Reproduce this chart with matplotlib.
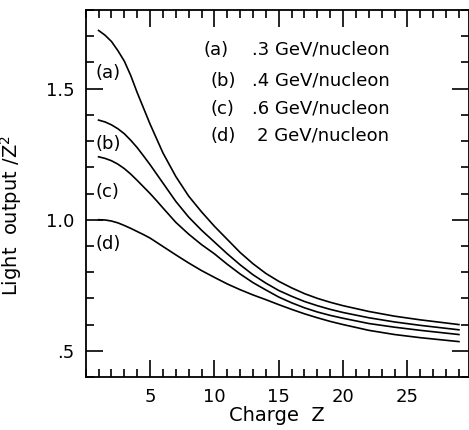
import matplotlib
matplotlib.use("Agg")
import matplotlib.pyplot as plt
from matplotlib.ticker import MultipleLocator, FixedLocator

# valores (Z, light output / Z^2)
charge_z = [1, 1.5, 2, 2.5, 3, 3.5, 4, 4.5, 5, 5.5, 6, 7, 8, 9, 10, 11, 12, 13,
            14, 15, 16, 17, 18, 19, 20, 22, 24, 26, 29]
curve_a = [1.722, 1.704, 1.68, 1.645, 1.605, 1.55, 1.485, 1.425, 1.365, 1.31,
           1.255, 1.165, 1.09, 1.03, 0.975, 0.925, 0.875, 0.832, 0.795, 0.765,
           0.74, 0.718, 0.70, 0.685, 0.672, 0.65, 0.632, 0.618, 0.60]
curve_b = [1.38, 1.373, 1.362, 1.347, 1.328, 1.303, 1.275, 1.243, 1.21, 1.175,
           1.14, 1.07, 1.01, 0.96, 0.915, 0.87, 0.828, 0.79, 0.758, 0.73,
           0.708, 0.688, 0.672, 0.658, 0.646, 0.626, 0.61, 0.597, 0.58]
curve_c = [1.24, 1.234, 1.225, 1.212, 1.195, 1.174, 1.15, 1.125, 1.10, 1.073,
           1.045, 0.99, 0.945, 0.905, 0.87, 0.83, 0.793, 0.76, 0.732, 0.705,
           0.683, 0.664, 0.648, 0.635, 0.624, 0.604, 0.59, 0.578, 0.562]
curve_d = [1.0, 0.999, 0.995, 0.988, 0.978, 0.967, 0.955, 0.943, 0.93, 0.914,
           0.898, 0.866, 0.835, 0.806, 0.78, 0.755, 0.733, 0.713, 0.695, 0.676,
           0.658, 0.641, 0.626, 0.612, 0.60, 0.578, 0.562, 0.55, 0.535]

curve_tags = ["(a)", "(b)", "(c)", "(d)"]
tag_y = [1.56, 1.29, 1.107, 0.908]
energy_labels = [".3 GeV/nucleon", ".4 GeV/nucleon", ".6 GeV/nucleon", "2 GeV/nucleon"]
legend_y = [1.649, 1.531, 1.424, 1.321]
legend_tag_x = [9.12, 9.66, 9.66, 9.66]

fig = plt.figure(figsize=(4.69, 4.30), dpi=100)
ax = fig.add_axes([85.7 / 469, 53 / 430, 1 - 85.7 / 469, 367 / 430])

for ys in [curve_a, curve_b, curve_c, curve_d]:
    ax.plot(charge_z, ys, color="black", lw=1.2)

for tag, ty in zip(curve_tags, tag_y):
    ax.text(0.75, ty, tag, fontsize=13, va="center", ha="left")

# leyenda escrita a mano: etiqueta a la izquierda, energia alineada a la derecha
for tag, lab, ly, lx in zip(curve_tags, energy_labels, legend_y, legend_tag_x):
    ax.text(lx, ly, tag, fontsize=13, va="center", ha="left")
    ax.text(23.6, ly, lab, fontsize=13, va="center", ha="right")

ax.set_xlim(0, (469 - 85.7) / 12.87)
ax.set_ylim(0.4, 1.8)

ax.xaxis.set_major_locator(FixedLocator([5, 10, 15, 20, 25]))
ax.xaxis.set_minor_locator(MultipleLocator(1))
ax.yaxis.set_major_locator(FixedLocator([0.5, 1.0, 1.5]))
ax.yaxis.set_minor_locator(MultipleLocator(0.1))
ax.set_yticklabels([".5", "1.0", "1.5"])

ax.tick_params(which="both", direction="in", top=True, right=True, width=1.2)
ax.tick_params(which="major", length=12, labelsize=13, pad=8)
ax.tick_params(which="minor", length=6)

for s in ax.spines.values():
    s.set_linewidth(1.3)

ax.set_xlabel("Charge  Z", fontsize=14, labelpad=0)
ax.set_ylabel("Light  output /Z$^2$", fontsize=14)
ax.yaxis.set_label_coords(-0.16, 0.44)

fig.savefig("out.png", dpi=100)
